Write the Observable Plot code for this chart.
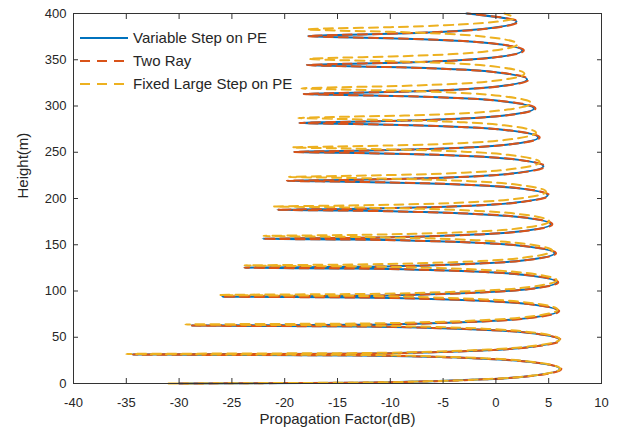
<!DOCTYPE html>
<html><head><meta charset="utf-8">
<script src="https://cdn.jsdelivr.net/npm/d3@7"></script>
<script src="https://cdn.jsdelivr.net/npm/@observablehq/plot@0.6"></script>
<style>
body{margin:0;background:#fff;font-family:"Liberation Sans",Arial,Helvetica,sans-serif;}
#wrap{position:relative;width:623px;height:433px;}
#legend{position:absolute;left:80px;top:26px;font-size:15px;color:#262626;}
.row{display:flex;align-items:center;height:23px;white-space:nowrap;}
.row svg{margin-right:5px;}
</style></head><body>
<div id="wrap"><div id="chart"></div><div id="legend"></div></div>
<script>
const seriesNames = ["Variable Step on PE", "Two Ray", "Fixed Large Step on PE"];
const xTicks = [-40, -35, -30, -25, -20, -15, -10, -5, 0, 5, 10];
const yTicks = [0, 50, 100, 150, 200, 250, 300, 350, 400];
const xLabel = "Propagation Factor(dB)";
const yLabel = "Height(m)";

// heights (m) shared by the PE variable-step and two-ray curves
const heightPE = [
  0, 0.9, 2.5, 4.7, 7.8, 15.65, 23.5, 26.6, 28.8, 30.4, 31.3,
  32.2, 33.8, 36.0, 39.1, 46.95, 54.8, 57.9, 60.1, 61.7, 62.6,
  63.5, 65.1, 67.3, 70.4, 78.25, 86.1, 89.2, 91.4, 93.0, 93.9,
  94.8, 96.4, 98.6, 101.7, 109.55, 117.4, 120.5, 122.7, 124.3, 125.2,
  126.1, 127.7, 129.9, 133.0, 140.85, 148.7, 151.8, 154.0, 155.6, 156.5,
  157.4, 159.0, 161.2, 164.3, 172.15, 180.0, 183.1, 185.3, 186.9, 187.8,
  188.7, 190.3, 192.5, 195.6, 203.45, 211.3, 214.4, 216.6, 218.2, 219.1,
  220.0, 221.6, 223.8, 226.9, 234.75, 242.6, 245.7, 247.9, 249.5, 250.4,
  251.3, 252.9, 255.1, 258.2, 266.05, 273.9, 277.0, 279.2, 280.8, 281.7,
  282.6, 284.2, 286.4, 289.5, 297.35, 305.2, 308.3, 310.5, 312.1, 313.0,
  313.9, 315.5, 317.7, 320.8, 328.65, 336.5, 339.6, 341.8, 343.4, 344.3,
  345.2, 346.8, 349.0, 352.1, 359.95, 367.8, 370.9, 373.1, 374.7, 375.6,
  376.5, 378.1, 380.3, 383.4, 391.25, 400
];
const fVariable = [
  -30.0, -13.0, -6.0, -0.75, 3.05, 6.05, 3.05, -0.75, -6.0, -13.0, -34.4,
  -13.0, -6.0, -0.8, 3.0, 6.0, 3.0, -0.8, -6.0, -13.0, -28.8,
  -13.15, -6.15, -0.95, 2.85, 5.85, 2.85, -0.95, -6.15, -13.15, -25.9,
  -13.25, -6.25, -1.05, 2.75, 5.75, 2.75, -1.05, -6.25, -13.25, -23.8,
  -13.45, -6.45, -1.25, 2.55, 5.55, 2.55, -1.25, -6.45, -13.45, -22.1,
  -13.8, -6.8, -1.6, 2.2, 5.2, 2.2, -1.6, -6.8, -13.8, -20.7,
  -14.1, -7.1, -1.9, 1.9, 4.9, 1.9, -1.9, -7.1, -14.1, -19.8,
  -14.5, -7.5, -2.3, 1.5, 4.5, 1.5, -2.3, -7.5, -14.5, -19.1,
  -15.0, -8.0, -2.8, 1.0, 4.0, 1.0, -2.8, -8.0, -15.0, -18.6,
  -15.4, -8.4, -3.2, 0.6, 3.6, 0.6, -3.2, -8.4, -15.4, -18.2,
  -15.55, -9.05, -3.85, -0.05, 2.95, -0.05, -3.85, -9.05, -15.55, -17.9,
  -15.8, -9.5, -4.3, -0.5, 2.5, -0.5, -4.3, -9.5, -15.8, -17.8,
  -16.0, -10.05, -4.85, -1.05, 1.95, -2.8
];
const fTwoRay = [
  -30.0, -13.0, -6.0, -0.7, 3.15, 6.2, 3.15, -0.7, -6.0, -13.0, -34.4,
  -13.0, -6.0, -0.75, 3.1, 6.15, 3.1, -0.75, -6.0, -13.0, -28.8,
  -13.15, -6.15, -0.9, 2.95, 6.0, 2.95, -0.9, -6.15, -13.15, -25.9,
  -13.25, -6.25, -1.0, 2.85, 5.9, 2.85, -1.0, -6.25, -13.25, -23.8,
  -13.45, -6.45, -1.2, 2.65, 5.7, 2.65, -1.2, -6.45, -13.45, -22.1,
  -13.8, -6.8, -1.55, 2.3, 5.35, 2.3, -1.55, -6.8, -13.8, -20.7,
  -14.1, -7.1, -1.85, 2.0, 5.05, 2.0, -1.85, -7.1, -14.1, -19.8,
  -14.5, -7.5, -2.25, 1.6, 4.65, 1.6, -2.25, -7.5, -14.5, -19.1,
  -15.0, -8.0, -2.75, 1.1, 4.15, 1.1, -2.75, -8.0, -15.0, -18.6,
  -15.4, -8.4, -3.15, 0.7, 3.75, 0.7, -3.15, -8.4, -15.4, -18.2,
  -15.55, -9.05, -3.8, 0.05, 3.1, 0.05, -3.8, -9.05, -15.55, -17.9,
  -15.8, -9.5, -4.25, -0.4, 2.65, -0.4, -4.25, -9.5, -15.8, -17.8,
  -16.0, -10.05, -4.8, -0.95, 2.1, -2.7
];

// heights (m) and values for the fixed large-step PE curve
const heightFixed = [
  0, 1.0, 2.6, 4.8, 8.0, 15.95, 23.9, 27.1, 29.3, 30.9, 31.9,
  32.9, 34.5, 36.7, 39.9, 47.85, 55.8, 59.0, 61.2, 62.8, 63.8,
  64.8, 66.4, 68.6, 71.8, 79.75, 87.7, 90.9, 93.1, 94.7, 95.7,
  96.7, 98.3, 100.5, 103.7, 111.65, 119.6, 122.8, 125.0, 126.6, 127.6,
  128.6, 130.2, 132.4, 135.6, 143.55, 151.5, 154.7, 156.9, 158.5, 159.5,
  160.5, 162.1, 164.3, 167.5, 175.45, 183.4, 186.6, 188.8, 190.4, 191.4,
  192.4, 194.0, 196.2, 199.4, 207.35, 215.3, 218.5, 220.7, 222.3, 223.3,
  224.3, 225.9, 228.1, 231.3, 239.25, 247.2, 250.4, 252.6, 254.2, 255.2,
  256.2, 257.8, 260.0, 263.2, 271.15, 279.1, 282.3, 284.5, 286.1, 287.1,
  288.1, 289.7, 291.9, 295.1, 303.05, 311.0, 314.2, 316.4, 318.0, 319.0,
  320.0, 321.6, 323.8, 327.0, 334.95, 342.9, 346.1, 348.3, 349.9, 350.9,
  351.9, 353.5, 355.7, 358.9, 366.85, 374.8, 378.0, 380.2, 381.8, 382.8,
  383.8, 385.2, 387.3, 390.0, 395.0, 400
];
const fFixed = [
  -31.0, -12.9, -5.9, -0.7, 3.1, 6.1, 3.1, -0.7, -5.9, -12.9, -35.0,
  -12.95, -5.95, -0.75, 3.05, 6.05, 3.05, -0.75, -5.95, -12.95, -29.4,
  -13.15, -6.15, -0.95, 2.85, 5.85, 2.85, -0.95, -6.15, -13.15, -26.2,
  -13.25, -6.25, -1.05, 2.75, 5.75, 2.75, -1.05, -6.25, -13.25, -23.8,
  -13.65, -6.65, -1.45, 2.35, 5.35, 2.35, -1.45, -6.65, -13.65, -22.0,
  -13.95, -6.95, -1.75, 2.05, 5.05, 2.05, -1.75, -6.95, -13.95, -21.0,
  -14.25, -7.25, -2.05, 1.75, 4.75, 1.75, -2.05, -7.25, -14.25, -19.6,
  -14.85, -7.85, -2.65, 1.15, 4.15, 1.15, -2.65, -7.85, -14.85, -19.3,
  -15.2, -8.2, -3.0, 0.8, 3.8, 0.8, -3.0, -8.2, -15.2, -18.7,
  -15.4, -8.65, -3.45, 0.35, 3.35, 0.35, -3.45, -8.65, -15.4, -18.4,
  -15.8, -9.3, -4.1, -0.3, 2.7, -0.3, -4.1, -9.3, -15.8, -17.7,
  -15.9, -9.95, -4.75, -0.95, 2.05, -0.95, -4.75, -9.95, -15.9, -17.9,
  -16.0, -10.0, -4.8, -1.0, 1.7, 0.8
];

const colors = ["#0072BD", "#D95319", "#EDB120"];
const dashes = [null, "9,6", "9,6"];

const variable = heightPE.map((h, i) => ({h, f: fVariable[i]}));
const twoRay = heightPE.map((h, i) => ({h, f: fTwoRay[i]}));
const fixed = heightFixed.map((h, i) => ({h, f: fFixed[i]}));

const fmt = d => String(d);
const chart = Plot.plot({
  width: 623, height: 433,
  marginLeft: 73, marginRight: 22, marginTop: 13, marginBottom: 50,
  style: {fontFamily: "'Liberation Sans', Arial, Helvetica, sans-serif", fontSize: "13px", color: "#262626", background: "#fff"},
  x: {domain: [-40, 10]},
  y: {domain: [0, 400]},
  marks: [
    Plot.line(variable, {x: "f", y: "h", curve: "monotone-y", stroke: colors[0], strokeWidth: 2}),
    Plot.line(twoRay, {x: "f", y: "h", curve: "monotone-y", stroke: colors[1], strokeWidth: 2, strokeDasharray: dashes[1]}),
    Plot.line(fixed, {x: "f", y: "h", curve: "monotone-y", stroke: colors[2], strokeWidth: 2, strokeDasharray: dashes[2]}),
    Plot.frame({stroke: "#333"}),
    Plot.axisX(xTicks, {anchor: "bottom", tickSize: -5, tickPadding: 19, tickFormat: fmt, label: null, stroke: "#333"}),
    Plot.axisX(xTicks, {anchor: "top", tickSize: -5, tickFormat: () => "", label: null, stroke: "#333"}),
    Plot.axisY(yTicks, {anchor: "left", tickSize: -5, tickPadding: 12, tickFormat: fmt, label: null, stroke: "#333"}),
    Plot.axisY(yTicks, {anchor: "right", tickSize: -5, tickFormat: () => "", label: null, stroke: "#333"}),
    Plot.text([xLabel], {frameAnchor: "bottom", dy: 40, fontSize: 15, fill: "#262626"}),
    Plot.text([yLabel], {frameAnchor: "left", dx: -50, rotate: -90, fontSize: 15, fill: "#262626"})
  ]
});
document.getElementById("chart").appendChild(chart);

const legend = document.getElementById("legend");
seriesNames.forEach((name, i) => {
  const row = document.createElement("div");
  row.className = "row";
  row.innerHTML = `<svg width="48" height="6"><line x1="0" y1="3" x2="48" y2="3" stroke="${colors[i]}" stroke-width="2.2" ${dashes[i] ? `stroke-dasharray="10,7"` : ""}/></svg><span>${name}</span>`;
  legend.appendChild(row);
});
</script>
</body></html>
